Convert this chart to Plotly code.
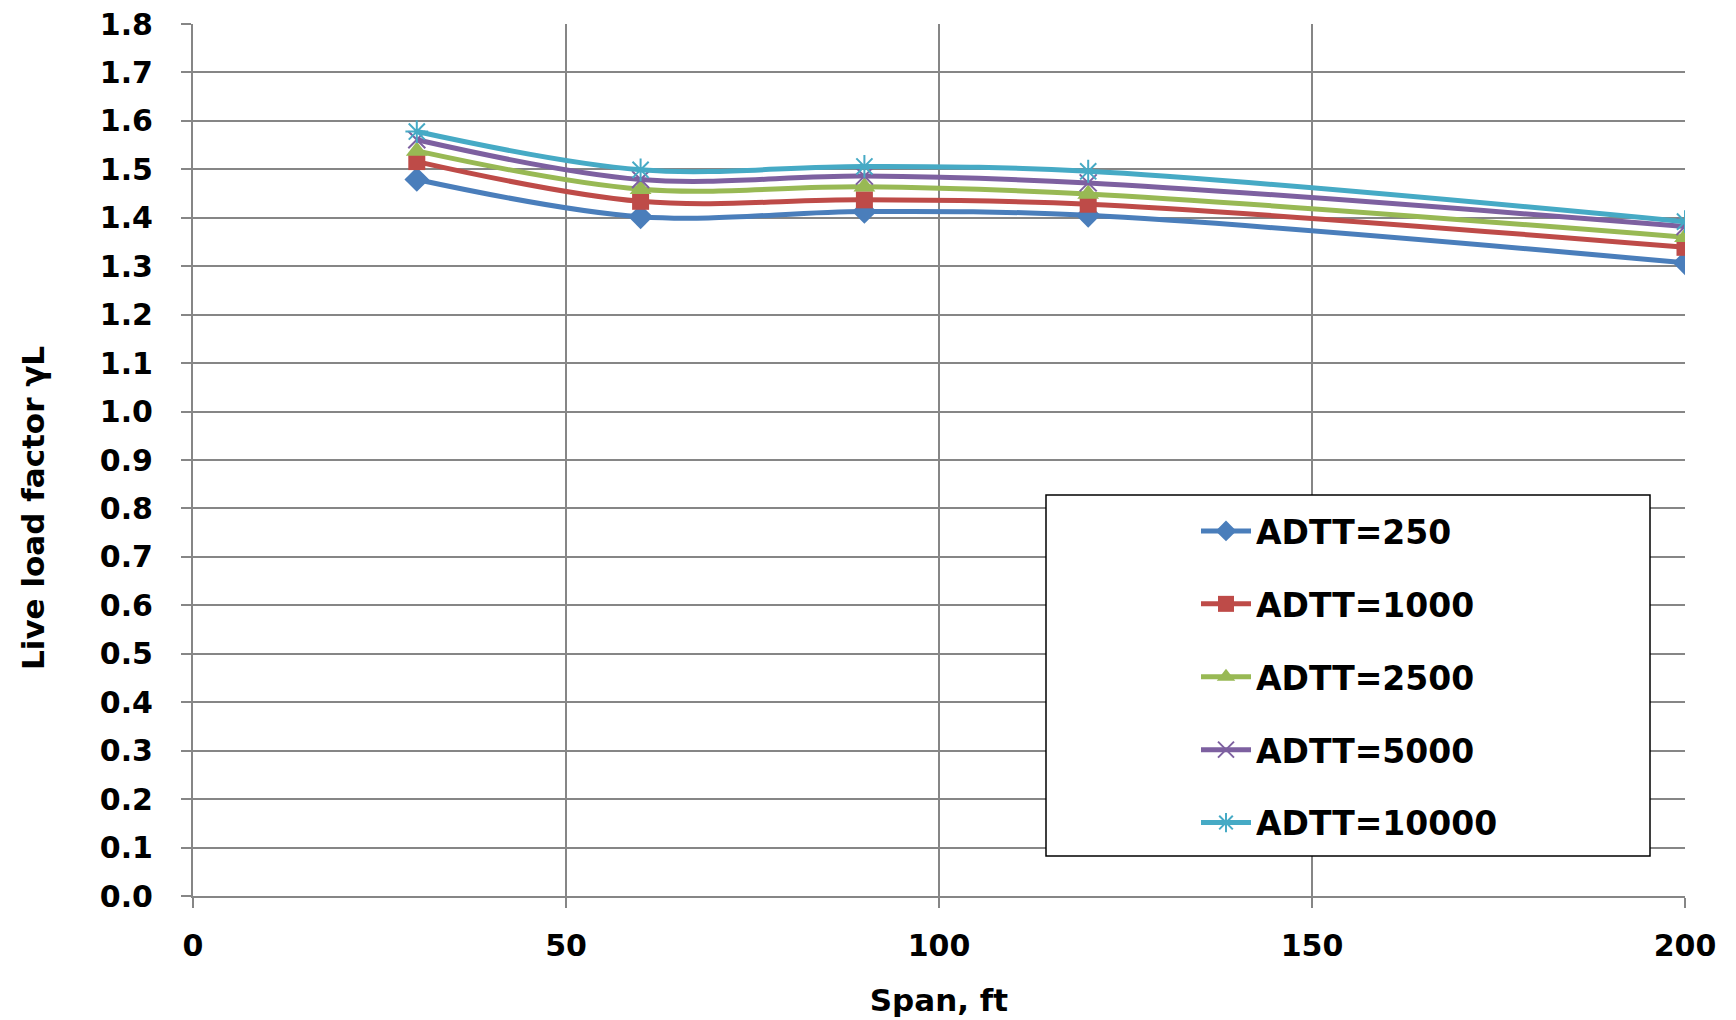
import plotly.graph_objects as go

span = [30, 60, 90, 120, 200]
adtt_250 = [1.479, 1.402, 1.413, 1.405, 1.307]
adtt_1000 = [1.516, 1.434, 1.437, 1.428, 1.339]
adtt_2500 = [1.538, 1.459, 1.464, 1.449, 1.360]
adtt_5000 = [1.561, 1.479, 1.486, 1.472, 1.382]
adtt_10000 = [1.578, 1.499, 1.506, 1.496, 1.392]

names = ["ADTT=250", "ADTT=1000", "ADTT=2500", "ADTT=5000", "ADTT=10000"]
series = [adtt_250, adtt_1000, adtt_2500, adtt_5000, adtt_10000]
colors = ["#4A7EBB", "#BE4B48", "#98B954", "#7D60A0", "#46AAC5"]
symbols = ["diamond", "square", "triangle-up", "x-thin-open", "asterisk-open"]
sizes = [19, 17, 19, 17, 19]

FONT = "DejaVu Sans"

fig = go.Figure()
for i, (nm, ys) in enumerate(zip(names, series)):
    open_sym = symbols[i].endswith("open")
    fig.add_trace(go.Scatter(
        x=span, y=ys, name=nm, mode="lines+markers",
        legendgroup=nm,
        line=dict(color=colors[i], width=5, shape="spline", smoothing=1.0),
        marker=dict(symbol=symbols[i], size=sizes[i], color=colors[i],
                    line=dict(color=colors[i], width=2 if open_sym else 0)),
    ))

fig.add_shape(type="rect", xref="paper", yref="paper",
              x0=(1046 - 193) / 1492, x1=(1650 - 193) / 1492,
              y0=(896 - 856) / 872, y1=(896 - 495) / 872,
              line=dict(color="black", width=1.5), fillcolor="white", layer="above")

fig.add_annotation(text="Live load factor γL", xref="paper", yref="paper",
                   x=(33 - 193) / 1492, y=(896 - 508) / 872,
                   xanchor="center", yanchor="middle", textangle=-90, showarrow=False,
                   font=dict(family=FONT, size=31, color="black", weight="bold"))

axis_common = dict(
    showline=True, linecolor="#868686", linewidth=2,
    showgrid=True, gridcolor="#868686", gridwidth=1.5,
    ticks="outside", ticklen=10, tickcolor="#868686", tickwidth=2,
    tickfont=dict(family=FONT, size=30, color="black", weight="bold"),
    zeroline=False, automargin=False,
)

fig.update_layout(
    width=1736, height=1020,
    margin=dict(l=193, r=51, t=24, b=124),
    paper_bgcolor="white", plot_bgcolor="white",
    font=dict(family=FONT, color="black"),
    xaxis=dict(range=[0, 200], dtick=50, tick0=0,
               title=dict(text="Span, ft", font=dict(family=FONT, size=31, weight="bold"), standoff=27),
               ticklabelstandoff=12, **axis_common),
    yaxis=dict(range=[0, 1.8], dtick=0.1, tick0=0, tickformat=".1f",
               ticklabelstandoff=22, **axis_common),
    legend=dict(x=(1196 - 193) / 1492, y=(896 - 503) / 872, xanchor="left", yanchor="top",
                bgcolor="rgba(0,0,0,0)", borderwidth=0,
                font=dict(family=FONT, size=33, color="black", weight="bold"),
                tracegroupgap=27, itemwidth=50),
    showlegend=True,
)

fig.write_html("out.html")
